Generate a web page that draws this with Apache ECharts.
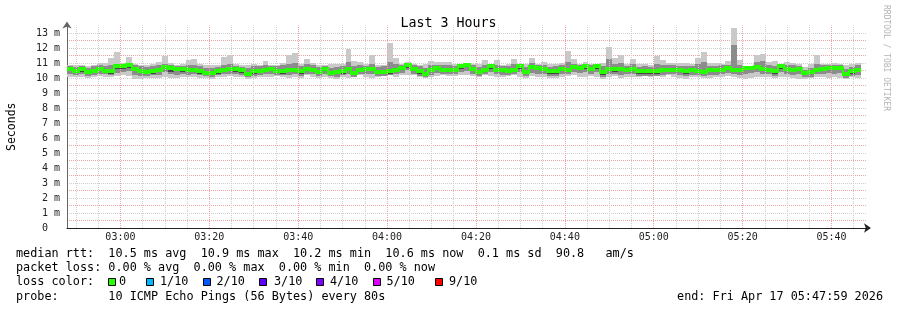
<!DOCTYPE html>
<html>
<head>
<meta charset="utf-8">
<script src="https://cdn.jsdelivr.net/npm/echarts@6/dist/echarts.min.js"></script>
<style>
html,body{margin:0;padding:0;background:#fff;}
#chart{width:897px;height:310px;}
</style>
</head>
<body>
<div id="chart"></div>
<script>
// ---- time base (minutes since 00:00) ----
const START_MIN = 167 + 59 / 60;      // 02:47:59
const SPAN_MIN = 180;                 // last 3 hours
const STEP_MIN = 80 / 60;             // one probe round = 80 s

// ---- x tick labels ----
const xTickLabels = ['03:00', '03:20', '03:40', '04:00', '04:20', '04:40', '05:00', '05:20', '05:40'];

// ---- per-step values (ms) ----
const medianMs = [
  10.58,10.44,10.58,10.40,10.49,10.58,10.49,10.44,10.78,10.78,10.84,10.62,10.49,10.40,10.49,10.51,10.73,10.67,10.62,10.58,10.56,10.51,10.49,10.36,10.33,10.44,10.51,10.58,10.58,10.51,10.29,10.44,10.49,10.56,
  10.58,10.49,10.44,10.51,10.56,10.44,10.62,10.56,10.40,10.62,10.36,10.40,10.44,10.62,10.36,10.56,10.58,10.62,10.40,10.40,10.44,10.51,10.67,10.88,10.62,10.44,10.29,10.51,10.67,10.56,10.56,10.56,10.78,10.89,
  10.62,10.40,10.51,10.78,10.56,10.51,10.47,10.51,10.78,10.40,10.73,10.67,10.62,10.44,10.44,10.62,10.56,10.73,10.69,10.78,10.58,10.78,10.40,10.58,10.58,10.58,10.56,10.62,10.44,10.44,10.44,10.44,10.51,10.51,
  10.56,10.56,10.44,10.51,10.47,10.40,10.51,10.51,10.56,10.67,10.56,10.51,10.67,10.67,10.73,10.62,10.56,10.44,10.78,10.58,10.51,10.62,10.33,10.40,10.56,10.62,10.69,10.69,10.67,10.29,10.44,10.56
];
const maxMs = [
  10.89,10.89,10.84,10.78,10.89,11.02,11.02,11.33,11.73,11.02,11.40,10.96,10.89,10.84,10.96,11.07,11.47,11.02,10.89,10.96,11.18,11.24,10.96,10.84,10.84,10.89,11.40,11.51,10.96,10.84,10.84,10.96,10.89,11.11,
  10.89,10.89,11.02,11.51,11.67,10.96,11.29,11.02,10.89,10.84,10.96,10.96,10.96,11.96,11.11,11.07,10.96,11.51,10.89,10.89,12.36,11.36,10.96,11.07,10.96,10.84,10.96,11.11,11.07,11.07,11.07,10.96,10.96,11.02,
  10.96,10.96,11.18,10.96,11.18,10.89,10.96,11.24,10.96,10.96,11.33,10.96,11.07,10.96,10.96,11.02,11.78,11.29,10.96,11.07,10.96,10.96,11.02,12.07,11.36,11.56,10.96,11.29,10.96,10.96,10.89,11.44,11.22,11.02,
  11.02,11.02,11.02,10.96,11.33,11.73,11.02,11.02,10.96,11.11,13.33,11.18,10.73,10.73,11.51,11.62,11.07,11.11,10.84,11.07,11.02,10.96,10.73,10.96,11.51,10.96,10.96,11.02,10.96,10.89,10.96,11.02
];
const minMs = [
  10.07,10.07,10.07,10.02,10.07,10.11,10.07,10.07,10.13,10.18,10.11,9.96,9.96,10.00,10.02,10.02,10.07,10.02,10.00,10.07,10.07,10.07,10.02,10.00,9.96,10.07,10.07,10.11,10.07,10.07,9.96,10.02,10.07,10.07,
  10.07,10.11,10.07,10.00,10.07,10.00,10.18,10.07,10.00,10.07,10.00,9.96,10.07,10.00,10.07,10.18,10.07,10.00,10.07,10.11,10.18,10.07,10.18,10.18,10.18,10.07,10.00,10.07,10.13,10.18,10.11,10.13,10.18,10.18,
  10.13,10.07,10.18,10.11,10.07,10.07,10.11,10.18,10.07,10.00,10.13,10.07,10.07,10.00,10.00,10.07,10.11,10.18,10.07,10.07,10.11,10.07,9.91,10.07,10.11,10.00,10.07,10.07,10.07,10.13,10.07,10.11,10.07,10.18,
  10.07,10.00,9.96,10.07,10.07,10.00,10.00,10.07,10.07,10.11,10.07,10.00,9.96,10.00,10.07,10.07,10.07,10.00,10.07,10.07,10.00,9.96,9.96,10.00,10.07,10.07,10.00,10.07,10.00,9.96,10.07,10.00
];
// inner smoke (pings 2..9)
const hiMs = [
  10.80,10.75,10.78,10.70,10.78,10.85,10.80,10.90,10.95,10.95,11.00,10.85,10.78,10.72,10.80,10.85,10.95,10.88,10.80,10.80,10.85,10.90,10.80,10.70,10.68,10.75,10.90,10.95,10.82,10.75,10.70,10.78,10.80,10.85,
  10.80,10.78,10.85,10.95,11.00,10.80,10.95,10.85,10.75,10.80,10.70,10.75,10.80,11.10,10.80,10.85,10.82,10.95,10.75,10.78,11.10,10.95,10.90,11.00,10.85,10.78,10.70,10.85,10.90,10.85,10.85,10.82,10.95,11.00,
  10.85,10.75,10.90,10.95,10.90,10.80,10.80,10.95,10.95,10.75,11.00,10.85,10.88,10.75,10.78,10.85,11.10,10.95,10.90,10.95,10.85,10.95,10.78,11.30,10.95,11.00,10.80,10.95,10.75,10.78,10.75,10.95,10.90,10.85,
  10.85,10.82,10.78,10.80,10.95,11.05,10.82,10.80,10.85,10.90,12.20,10.90,10.70,10.70,11.05,11.15,10.85,10.80,10.80,10.90,10.85,10.82,10.55,10.70,10.95,10.85,10.90,10.85,10.85,10.60,10.75,10.85
];
const loMs = [
  10.25,10.20,10.28,10.15,10.22,10.30,10.25,10.20,10.35,10.40,10.45,10.20,10.15,10.12,10.18,10.22,10.40,10.25,10.20,10.25,10.22,10.25,10.18,10.12,10.10,10.20,10.25,10.30,10.28,10.22,10.05,10.15,10.20,10.25,
  10.25,10.22,10.18,10.20,10.28,10.15,10.30,10.25,10.15,10.30,10.12,10.10,10.20,10.30,10.10,10.28,10.30,10.25,10.15,10.15,10.20,10.25,10.35,10.55,10.30,10.15,10.08,10.22,10.35,10.28,10.25,10.25,10.40,10.50,
  10.30,10.15,10.25,10.40,10.25,10.22,10.20,10.25,10.40,10.12,10.35,10.30,10.30,10.15,10.12,10.30,10.25,10.40,10.35,10.40,10.25,10.40,10.05,10.25,10.25,10.20,10.25,10.30,10.15,10.15,10.15,10.15,10.22,10.25,
  10.25,10.20,10.15,10.22,10.18,10.12,10.20,10.22,10.25,10.35,10.25,10.20,10.30,10.35,10.40,10.30,10.25,10.15,10.40,10.25,10.18,10.30,10.05,10.10,10.25,10.30,10.35,10.30,10.35,10.02,10.12,10.20
];
// core smoke (pings 4..7)
const hi3Ms = [
  10.66,10.52,10.65,10.50,10.60,10.66,10.60,10.55,10.85,10.86,10.92,10.70,10.58,10.50,10.58,10.62,10.82,10.75,10.70,10.66,10.66,10.62,10.58,10.46,10.42,10.52,10.62,10.66,10.68,10.62,10.38,10.54,10.60,10.66,
  10.68,10.58,10.55,10.62,10.66,10.55,10.72,10.66,10.50,10.72,10.48,10.50,10.55,10.72,10.46,10.66,10.68,10.72,10.50,10.52,10.56,10.62,10.78,10.95,10.72,10.55,10.40,10.62,10.76,10.66,10.66,10.66,10.86,10.96,
  10.72,10.50,10.62,10.86,10.66,10.62,10.58,10.62,10.86,10.50,10.82,10.76,10.72,10.55,10.55,10.72,10.66,10.82,10.78,10.86,10.68,10.86,10.50,10.68,10.68,10.68,10.66,10.72,10.55,10.55,10.55,10.55,10.62,10.62,
  10.66,10.66,10.55,10.62,10.58,10.50,10.62,10.62,10.66,10.76,10.70,10.62,10.70,10.70,10.80,10.72,10.66,10.55,10.84,10.68,10.62,10.72,10.44,10.50,10.66,10.72,10.78,10.78,10.76,10.40,10.55,10.66
];
const lo3Ms = [
  10.45,10.32,10.42,10.30,10.35,10.45,10.38,10.25,10.62,10.60,10.70,10.45,10.32,10.25,10.30,10.40,10.58,10.40,10.45,10.42,10.40,10.40,10.30,10.22,10.18,10.30,10.40,10.45,10.40,10.35,10.12,10.30,10.35,10.42,
  10.45,10.35,10.30,10.38,10.42,10.30,10.50,10.40,10.28,10.48,10.22,10.25,10.30,10.48,10.22,10.42,10.45,10.48,10.25,10.28,10.30,10.38,10.52,10.70,10.48,10.30,10.15,10.38,10.52,10.42,10.40,10.42,10.62,10.72,
  10.48,10.25,10.38,10.62,10.42,10.38,10.32,10.38,10.62,10.25,10.58,10.52,10.48,10.30,10.28,10.48,10.42,10.58,10.55,10.62,10.45,10.62,10.22,10.45,10.42,10.45,10.42,10.48,10.30,10.28,10.30,10.30,10.38,10.38,
  10.42,10.40,10.28,10.38,10.32,10.25,10.38,10.38,10.42,10.52,10.40,10.38,10.52,10.55,10.58,10.48,10.42,10.30,10.62,10.45,10.38,10.48,10.18,10.25,10.42,10.48,10.55,10.55,10.52,10.12,10.30,10.42
];

// ---- legend content ----
const lossLabels = ['0', '1/10', '2/10', '3/10', '4/10', '5/10', '9/10'];
const lossColors = ['#26ff00', '#00b8ff', '#0059ff', '#5e00ff', '#7e00ff', '#dd00ff', '#ff0000'];
const statLines = [
  'median rtt:  10.5 ms avg  10.9 ms max  10.2 ms min  10.6 ms now  0.1 ms sd  90.8   am/s',
  'packet loss: 0.00 % avg  0.00 % max  0.00 % min  0.00 % now',
  'loss color:',
  'probe:       10 ICMP Echo Pings (56 Bytes) every 80s'
];
const endText = 'end: Fri Apr 17 05:47:59 2026';

// ---- styling ----
const MONO = '"DejaVu Sans Mono", monospace';
const SMOKE = ['#c9c9c9', '#8c8c8c', '#444444'];
const MAJOR = '#f0a4a4';
const MINOR = '#cfcfcf';

const chart = echarts.init(document.getElementById('chart'), null, {renderer: 'canvas'});

const data = medianMs.map((m, i) => [START_MIN + i * STEP_MIN, minMs[i], maxMs[i], loMs[i], hiMs[i], lo3Ms[i], hi3Ms[i], m]);

function toMin(s) { const p = s.split(':'); return +p[0] * 60 + +p[1]; }
const majorSet = {};
xTickLabels.forEach(s => { majorSet[toMin(s)] = s; });
const gridLines = [];
for (let m = 170; m < START_MIN + SPAN_MIN; m += 5) {
  const lab = majorSet[m];
  gridLines.push({
    xAxis: m,
    lineStyle: {color: lab ? MAJOR : MINOR, type: [1, 1], width: 1},
    label: lab ? {show: true, position: 'start', formatter: lab, distance: 4,
      fontFamily: MONO, fontSize: 10, color: '#222'} : {show: false}
  });
}

function renderItem(params, api) {
  const i = params.dataIndex;
  const t = api.value(0);
  const xa = Math.round(api.coord([t, 0])[0]);
  const xb = Math.round(api.coord([t + STEP_MIN, 0])[0]);
  const Y = v => api.coord([t, v])[1];
  const band = (lo, hi, fill) => {
    const y1 = Math.round(Y(hi)), y2 = Math.round(Y(lo));
    return {type: 'rect', shape: {x: xa, y: y1, width: xb - xa, height: Math.max(1, y2 - y1)}, style: {fill: fill}};
  };
  const kids = [
    band(api.value(1), api.value(2), SMOKE[0]),
    band(api.value(3), api.value(4), SMOKE[1]),
    band(api.value(5), api.value(6), SMOKE[2])
  ];
  const ym = Math.round(Y(api.value(7)));
  kids.push({type: 'rect', shape: {x: xa, y: ym - 2, width: xb - xa, height: 4}, style: {fill: lossColors[0]}});
  if (i > 0) {
    const yp = Math.round(Y(medianMs[i - 1]));
    const top = Math.min(yp, ym) - 2;
    kids.push({type: 'rect', shape: {x: xa - 1, y: top, width: 2, height: Math.abs(yp - ym) + 4}, style: {fill: lossColors[0]}});
  }
  return {type: 'group', children: kids};
}

const graphics = [];
const lineY = [254, 268.3, 282.3, 296.6];
statLines.forEach((s, k) => {
  graphics.push({type: 'text', x: 16, y: lineY[k], silent: true,
    style: {text: s, font: '11.8px ' + MONO, fill: '#000', align: 'left', verticalAlign: 'middle'}});
});
graphics.push({type: 'text', x: 883, y: lineY[3], silent: true,
  style: {text: endText, font: '11.8px ' + MONO, fill: '#000', align: 'right', verticalAlign: 'middle'}});
const swatchX = [108, 146, 203, 259, 316, 373, 435];
const swatchTextX = [119, 160, 216.5, 274, 330, 386.5, 449];
lossLabels.forEach((lab, k) => {
  graphics.push({type: 'rect', silent: true, shape: {x: swatchX[k] + 0.5, y: 278.5, width: 7, height: 7},
    style: {fill: lossColors[k], stroke: '#000', lineWidth: 1}});
  graphics.push({type: 'text', x: swatchTextX[k], y: lineY[2], silent: true,
    style: {text: lab, font: '11.8px ' + MONO, fill: '#000', align: 'left', verticalAlign: 'middle'}});
});
graphics.push({type: 'text', x: 886, y: 5, rotation: -Math.PI / 2, silent: true,
  style: {text: 'RRDTOOL / TOBI OETIKER', font: '8px ' + MONO, fill: '#b4b4b4', align: 'left', verticalAlign: 'middle'}});

chart.setOption({
  animation: false,
  backgroundColor: '#ffffff',
  title: {
    text: 'Last 3 Hours', left: 'center', top: 12,
    textStyle: {fontFamily: MONO, fontSize: 13.3, fontWeight: 'normal', color: '#000'}
  },
  grid: {left: 67, right: 30, top: 25.5, bottom: 82, containLabel: false, outerBoundsMode: 'none'},
  xAxis: {
    type: 'value', min: START_MIN, max: START_MIN + SPAN_MIN,
    axisLine: {show: true, lineStyle: {color: '#222', width: 1}, symbol: ['none', 'arrow'], symbolSize: [7, 7], symbolOffset: [0, 4]},
    axisTick: {show: false}, axisLabel: {show: false}, splitLine: {show: false}
  },
  yAxis: {
    type: 'value', min: 0, max: 13.5, interval: 0.5,
    name: 'Seconds', nameLocation: 'middle', nameGap: 49, nameRotate: 90,
    nameTextStyle: {fontFamily: MONO, fontSize: 11.5, color: '#000'},
    axisLine: {show: true, lineStyle: {color: '#666', width: 1}, symbol: ['none', 'arrow'], symbolSize: [7, 7], symbolOffset: [0, 4]},
    axisTick: {show: false},
    axisLabel: {
      margin: 7, fontFamily: MONO, fontSize: 10, color: '#222',
      formatter: v => v === 0 ? '0  ' : (Number.isInteger(v) ? v + ' m' : '')
    },
    splitLine: {show: true, showMinLine: false, showMaxLine: false, lineStyle: {color: [MAJOR, MINOR], type: [1, 1], width: 1}}
  },
  series: [{
    type: 'custom',
    renderItem: renderItem,
    data: data,
    encode: {x: 0, y: [1, 2]},
    silent: true,
    z: 2,
    markLine: {silent: true, symbol: ['none', 'none'], animation: false, data: gridLines}
  }],
  graphic: graphics
});
</script>
</body>
</html>
